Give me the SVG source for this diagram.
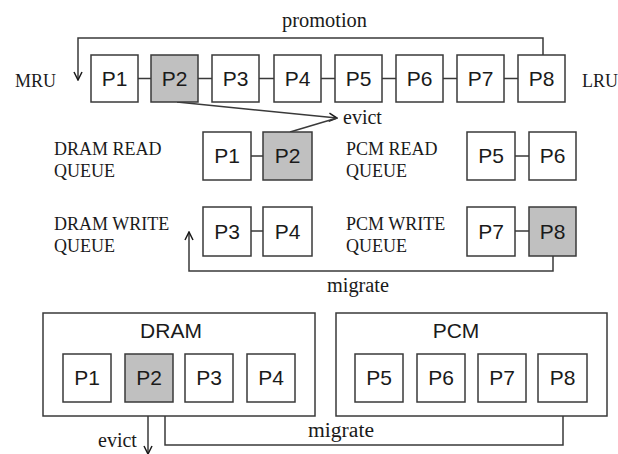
<svg xmlns="http://www.w3.org/2000/svg" width="618" height="454" viewBox="0 0 618 454">
<defs>
<style>
.b{fill:#fff;stroke:#3a3a3a;stroke-width:1.5}
.g{fill:#c0c0c0;stroke:#3a3a3a;stroke-width:1.5}
.c{fill:#fff;stroke:#3a3a3a;stroke-width:1.5}
.t{font-family:"Liberation Sans",Arial,sans-serif;font-size:21px;fill:#1a1a1a;text-anchor:middle}
.s{font-family:"Liberation Serif","Times New Roman",serif;font-size:18px;fill:#1a1a1a}
.w{font-family:"Liberation Serif","Times New Roman",serif;font-size:20px;fill:#1a1a1a}
.l{fill:none;stroke:#3a3a3a;stroke-width:1.5}
</style>
<marker id="a" viewBox="0 0 10 10" refX="9" refY="5" markerWidth="10" markerHeight="10" markerUnits="userSpaceOnUse" orient="auto">
<path d="M1,1 L9,5 L1,9" fill="none" stroke="#1a1a1a" stroke-width="1.5"/>
</marker>
</defs>
<rect width="618" height="454" fill="#fff"/>

<g id="connectors">
<path class="l" d="M138,78.5H151M198,78.5H212M259,78.5H274M321,78.5H335M382,78.5H396M443,78.5H457M504,78.5H518"/>
<path class="l" d="M543,55V38H78V80" marker-end="url(#a)"/>
<path class="l" d="M177,102L337,118" marker-end="url(#a)"/>
<path class="l" d="M290,132L337,118"/>
<path class="l" d="M251,156H263M251,231H263M515,156H529M515,231H529"/>
<path class="l" d="M553,256V271H189V232" marker-end="url(#a)"/>
<path class="l" d="M148,402V454" marker-end="url(#a)"/>
<path class="l" d="M563,402V445H165V404" marker-end="url(#a)"/>
</g>

<g id="labels">
<text class="w" x="282" y="27" textLength="85" lengthAdjust="spacingAndGlyphs">promotion</text>
<text class="s" x="15" y="87">MRU</text>
<text class="s" x="582" y="87">LRU</text>
<text class="w" x="343" y="124">evict</text>
<text class="s" x="54" y="155">DRAM READ</text>
<text class="s" x="54" y="177">QUEUE</text>
<text class="s" x="54" y="230">DRAM WRITE</text>
<text class="s" x="54" y="252">QUEUE</text>
<text class="s" x="346" y="155">PCM READ</text>
<text class="s" x="346" y="177">QUEUE</text>
<text class="s" x="346" y="230">PCM WRITE</text>
<text class="s" x="346" y="252">QUEUE</text>
<text class="w" x="327" y="292" textLength="62" lengthAdjust="spacingAndGlyphs">migrate</text>
<text class="w" x="308" y="437" textLength="66" lengthAdjust="spacingAndGlyphs">migrate</text>
<text class="w" x="98" y="447">evict</text>
</g>

<g id="lru-list">
<g id="t1"><rect class="b" x="91" y="55" width="47" height="47"/><text class="t" x="114.5" y="86">P1</text></g>
<g id="t2"><rect class="g" x="151" y="55" width="47" height="47"/><text class="t" x="174.5" y="86">P2</text></g>
<g id="t3"><rect class="b" x="212" y="55" width="47" height="47"/><text class="t" x="235.5" y="86">P3</text></g>
<g id="t4"><rect class="b" x="274" y="55" width="47" height="47"/><text class="t" x="297.5" y="86">P4</text></g>
<g id="t5"><rect class="b" x="335" y="55" width="47" height="47"/><text class="t" x="358.5" y="86">P5</text></g>
<g id="t6"><rect class="b" x="396" y="55" width="47" height="47"/><text class="t" x="419.5" y="86">P6</text></g>
<g id="t7"><rect class="b" x="457" y="55" width="47" height="47"/><text class="t" x="480.5" y="86">P7</text></g>
<g id="t8"><rect class="b" x="518" y="55" width="47" height="47"/><text class="t" x="541.5" y="86">P8</text></g>
</g>

<g id="queues">
<g id="drq1"><rect class="b" x="203" y="132" width="48" height="48"/><text class="t" x="227" y="163">P1</text></g>
<g id="drq2"><rect class="g" x="263" y="132" width="49" height="48"/><text class="t" x="287.5" y="163">P2</text></g>
<g id="dwq3"><rect class="b" x="203" y="207" width="48" height="49"/><text class="t" x="227" y="239">P3</text></g>
<g id="dwq4"><rect class="b" x="263" y="207" width="49" height="49"/><text class="t" x="287.5" y="239">P4</text></g>
<g id="prq5"><rect class="b" x="467" y="132" width="48" height="48"/><text class="t" x="491" y="163">P5</text></g>
<g id="prq6"><rect class="b" x="529" y="132" width="47" height="48"/><text class="t" x="552.5" y="163">P6</text></g>
<g id="pwq7"><rect class="b" x="467" y="207" width="48" height="49"/><text class="t" x="491" y="239">P7</text></g>
<g id="pwq8"><rect class="g" x="529" y="207" width="47" height="49"/><text class="t" x="552.5" y="239">P8</text></g>
</g>

<g id="dram">
<rect class="c" x="43" y="313" width="272" height="103"/>
<text class="t" x="171" y="338">DRAM</text>
<g id="d1"><rect class="b" x="63" y="354" width="48" height="48"/><text class="t" x="87" y="385">P1</text></g>
<g id="d2"><rect class="g" x="125" y="354" width="48" height="48"/><text class="t" x="149" y="385">P2</text></g>
<g id="d3"><rect class="b" x="185" y="354" width="48" height="48"/><text class="t" x="209" y="385">P3</text></g>
<g id="d4"><rect class="b" x="247" y="354" width="48" height="48"/><text class="t" x="271" y="385">P4</text></g>
</g>

<g id="pcm">
<rect class="c" x="336" y="313" width="271" height="103"/>
<text class="t" x="456" y="338">PCM</text>
<g id="p5"><rect class="b" x="355" y="354" width="48" height="48"/><text class="t" x="379" y="385">P5</text></g>
<g id="p6"><rect class="b" x="417" y="354" width="48" height="48"/><text class="t" x="441" y="385">P6</text></g>
<g id="p7"><rect class="b" x="478" y="354" width="48" height="48"/><text class="t" x="502" y="385">P7</text></g>
<g id="p8"><rect class="b" x="538" y="354" width="49" height="48"/><text class="t" x="562.5" y="385">P8</text></g>
</g>
</svg>
